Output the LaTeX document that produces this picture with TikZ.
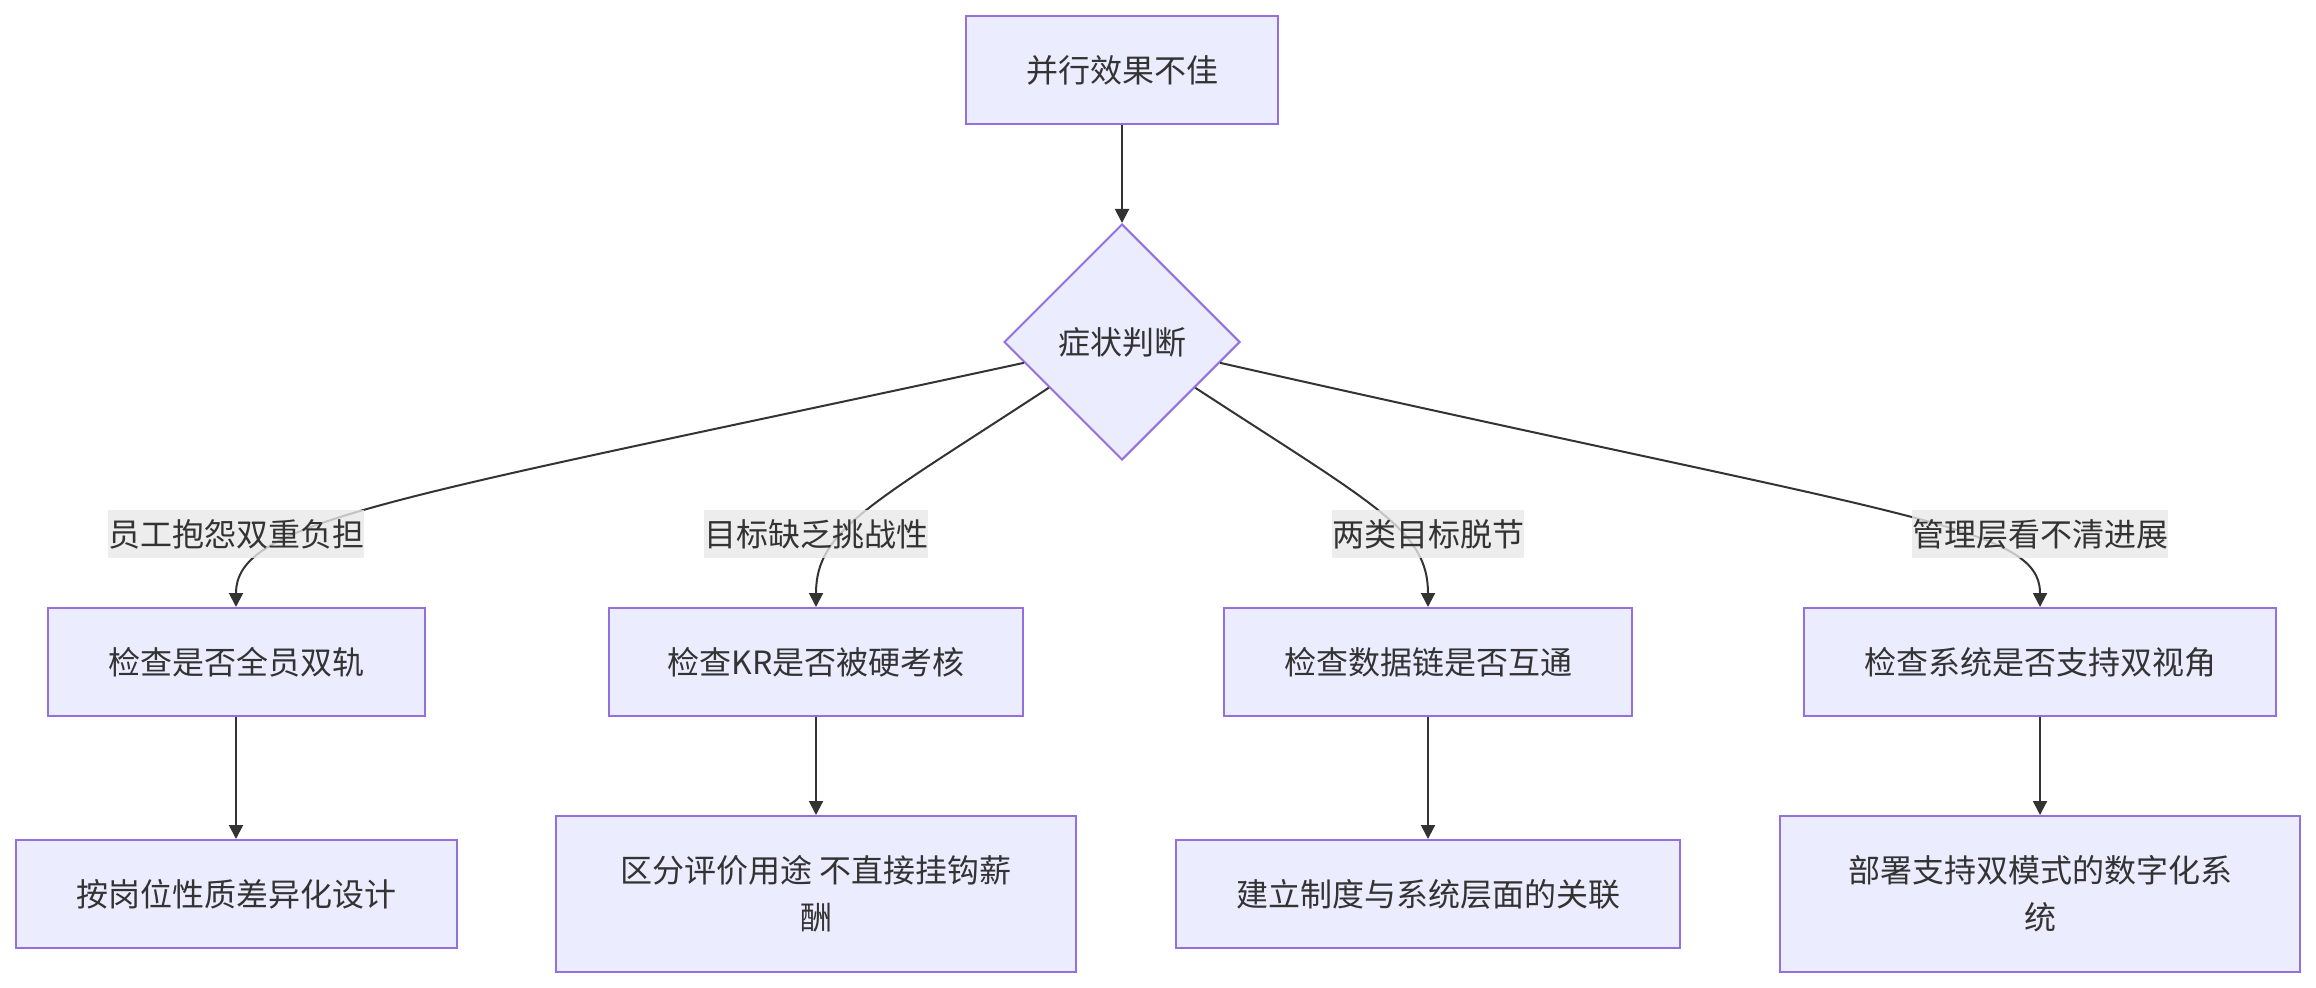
\documentclass[tikz,border=0pt]{standalone}
\usepackage{fontspec}
\setmainfont{Noto Sans CJK SC}
\usetikzlibrary{arrows.meta,shapes.geometric,positioning}
\definecolor{nodefill}{HTML}{ECECFF}
\definecolor{nodeline}{HTML}{9370DB}
\definecolor{inkgray}{HTML}{333333}
\definecolor{tagfill}{HTML}{E8E8E8}
\tikzset{
  box/.style={draw=nodeline, fill=nodefill, line width=1pt, text=inkgray, inner sep=0pt,
    minimum height=54pt, align=center, font=\fontsize{16}{23.5}\selectfont},
  decide/.style={diamond, aspect=1, draw=nodeline, fill=nodefill, line width=1pt, text=inkgray,
    inner sep=0pt, minimum width=118pt, minimum height=118pt, font=\fontsize{16}{19}\selectfont},
  tag/.style={fill=tagfill, fill opacity=0.8, text opacity=1, text=inkgray, inner xsep=0pt,
    inner ysep=0pt, minimum height=24pt, font=\fontsize{16}{19}\selectfont},
  edge/.style={draw=inkgray, line width=1pt, -{Triangle[length=7pt,width=7pt]}}
}
\begin{document}
\begin{tikzpicture}[x=0.5pt, y=-0.5pt]
\useasboundingbox (0,0) rectangle (2316,988);
% top and decision
\node[box, minimum width=156pt] (top) at (1122,70) {并行效果不佳};
\node[decide] (diag) at (1122,342) {症状判断};
% checks
\node[box, minimum width=188.5pt] (chk1) at (236,662) {检查是否全员双轨};
\node[box, minimum width=207pt] (chk2) at (816,662) {检查KR是否被硬考核};
\node[box, minimum width=204pt] (chk3) at (1428,662) {检查数据链是否互通};
\node[box, minimum width=236pt] (chk4) at (2040,662) {检查系统是否支持双视角};
% fixes
\node[box, minimum width=220.5pt] (fix1) at (236,894) {按岗位性质差异化设计};
\node[box, minimum width=260pt, minimum height=78pt] (fix2) at (816,894) {区分评价用途 不直接挂钩薪\\酬};
\node[box, minimum width=252pt] (fix3) at (1428,894) {建立制度与系统层面的关联};
\node[box, minimum width=260pt, minimum height=78pt] (fix4) at (2040,894) {部署支持双模式的数字化系\\统};
% connectors
\draw[edge] (top) -- (diag);
\draw[edge] (diag.192) .. controls (390,500) and (236,520) .. (chk1.north);
\draw[edge] (diag.212) .. controls (870,505) and (816,530) .. (chk2.north);
\draw[edge] (diag.328) .. controls (1375,505) and (1428,530) .. (chk3.north);
\draw[edge] (diag.348) .. controls (1905,518) and (2040,525) .. (chk4.north);
\foreach \n in {1,2,3,4} {
  \draw[edge] (chk\n) -- (fix\n);
}
% edge labels
\node[tag] (lab1) at (236,534) {员工抱怨双重负担};
\node[tag] (lab2) at (816,534) {目标缺乏挑战性};
\node[tag] (lab3) at (1428,534) {两类目标脱节};
\node[tag] (lab4) at (2040,534) {管理层看不清进展};
\end{tikzpicture}
\end{document}
